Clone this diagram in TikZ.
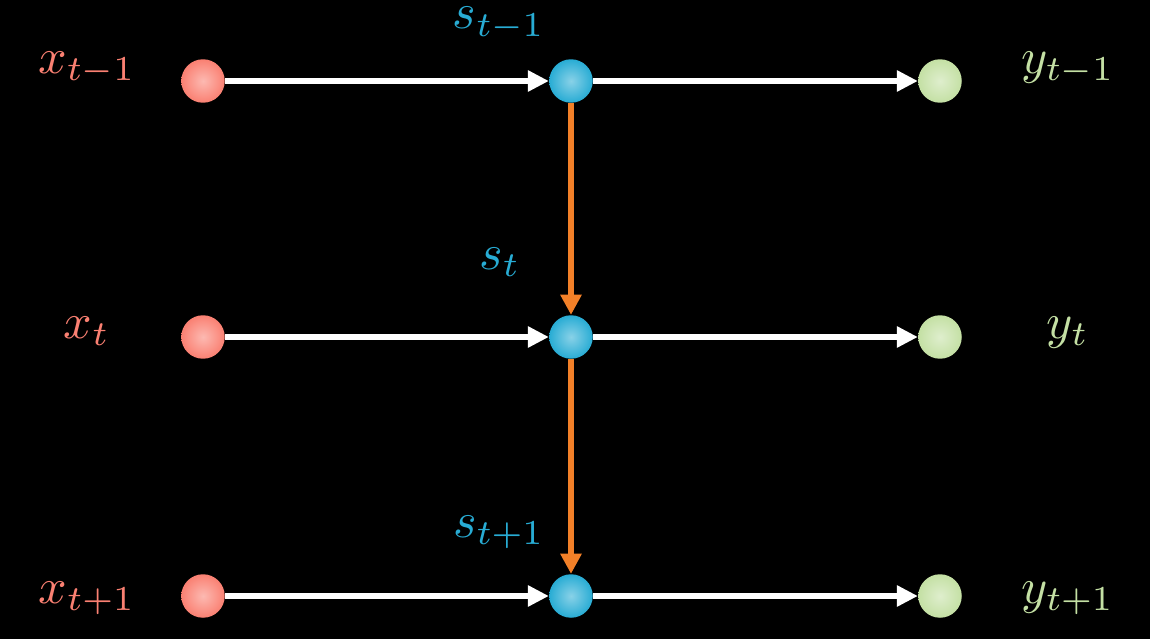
\documentclass[tikz,border=0pt]{standalone}
\usepackage{amsmath,amssymb}
\usepackage{graphicx}
\usepackage{tikz}
\usetikzlibrary{positioning, arrows.meta, calc}
\definecolor{inRed}{RGB}{250,128,114}
\definecolor{stateBlue}{RGB}{40,172,212}
\definecolor{outGreen}{RGB}{196,224,164}
\definecolor{flowOrange}{RGB}{242,128,40}
\newcommand{\biglbl}[1]{\scalebox{2.85}{$#1$}}

\begin{document}
\begin{tikzpicture}[x=0.02cm, y=-0.02cm,
		ball/.style={circle, minimum size=0.87cm, inner sep=0pt, shade, outer color=#1, inner color=#1!55!white},
		lbl/.style={text=#1, anchor=base, inner sep=0pt},
		feed/.style={-{Triangle[length=12pt, width=11.5pt]}, white, line width=3.8pt},
		carry/.style={-{Triangle[length=11.5pt, width=11.5pt]}, flowOrange, line width=3.4pt}]
				\fill[black] (0,0) rectangle (1150,639);
				\useasboundingbox (0,0) rectangle (1150,639);
				% inputs
				\node[ball=inRed] (x1) at (203,81) {};
				\node[ball=inRed] (x2) at (203,337) {};
				\node[ball=inRed] (x3) at (203,596) {};
				% states
				\node[ball=stateBlue] (s1) at (571,81) {};
				\node[ball=stateBlue] (s2) at (571,337) {};
				\node[ball=stateBlue] (s3) at (571,596) {};
				% outputs
				\node[ball=outGreen] (y1) at (940,81) {};
				\node[ball=outGreen] (y2) at (940,337) {};
				\node[ball=outGreen] (y3) at (940,596) {};
				\draw[carry] (s1) -- (s2);
				\draw[carry] (s2) -- (s3);
				\draw[feed] (x1) -- (s1); \draw[feed] (s1) -- (y1);
				\draw[feed] (x2) -- (s2); \draw[feed] (s2) -- (y2);
				\draw[feed] (x3) -- (s3); \draw[feed] (s3) -- (y3);
				\node[lbl=inRed] (lx1) at (87,73) {\biglbl{x_{t-1}}};
				\node[lbl=inRed] (lx2) at (87,338) {\biglbl{x_t}};
				\node[lbl=inRed] (lx3) at (87,603) {\biglbl{x_{t+1}}};
				\node[lbl=stateBlue] (ls1) at (499,29) {\biglbl{s_{t-1}}};
				\node[lbl=stateBlue] (ls2) at (500,269) {\biglbl{s_t}};
				\node[lbl=stateBlue] (ls3) at (499,537) {\biglbl{s_{t+1}}};
				\node[lbl=outGreen] (ly1) at (1068,73) {\biglbl{y_{t-1}}};
				\node[lbl=outGreen] (ly2) at (1068,338) {\biglbl{y_t}};
				\node[lbl=outGreen] (ly3) at (1068,603) {\biglbl{y_{t+1}}};
			\end{tikzpicture}
\end{document}
